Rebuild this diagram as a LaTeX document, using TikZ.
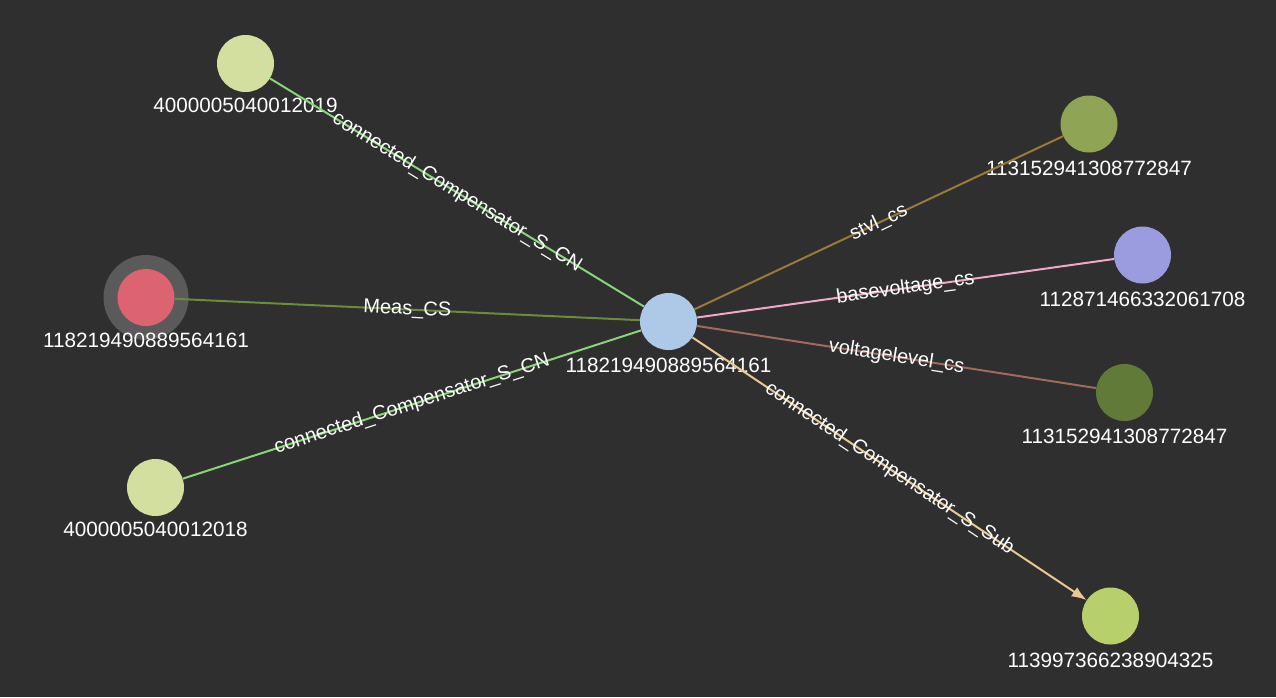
\documentclass[tikz,border=0pt]{standalone}
\usepackage{fontspec}
\setmainfont{Liberation Sans}
\usetikzlibrary{calc,arrows.meta}

\definecolor{bgc}{HTML}{2F2F2F}
\definecolor{haloc}{HTML}{5A5A5A}
\definecolor{centerc}{HTML}{AEC8E8}
\definecolor{paleg}{HTML}{D3DF9F}
\definecolor{redc}{HTML}{DC6470}
\definecolor{oliveg}{HTML}{8FA555}
\definecolor{purplec}{HTML}{9B9BE0}
\definecolor{darkg}{HTML}{627A38}
\definecolor{limec}{HTML}{B7D06C}
\definecolor{cne}{HTML}{88D478}
\definecolor{measc}{HTML}{6A8C3C}
\definecolor{stvlc}{HTML}{9A7A3A}
\definecolor{basec}{HTML}{F0A8C8}
\definecolor{volc}{HTML}{A06A5C}
\definecolor{subc}{HTML}{E8C890}

\begin{document}
\begin{tikzpicture}[x=1pt, y=-1pt,
  every node/.style={font=\fontsize{20}{24}\selectfont, text=white},
  vertex/.style={circle, minimum size=57pt, inner sep=0pt},
  idlabel/.style={font=\fontsize{20.7}{24}\selectfont},
  link/.style={line width=2pt},
  edgelabel/.style={midway, sloped, inner sep=1pt}]
	\useasboundingbox (0,0) rectangle (1276,697);
	\fill[bgc] (0,0) rectangle (1276,697);

	\coordinate (redpos) at (146,297.5);
	\fill[haloc] (redpos) circle (42.5);

	\node[vertex, fill=centerc] (cs) at (668.5,321.5) {};
	\node[idlabel] (pcs) at ($(cs) + (0,44)$) {118219490889564161};

	\node[vertex, fill=paleg] (cn19) at (245.5,63.5) {};
	\node[idlabel] (p19) at ($(cn19) + (0,42)$) {4000005040012019};
	\node[vertex, fill=redc] (meas) at (redpos) {};
	\node[idlabel] (pmeas) at ($(meas) + (0,43)$) {118219490889564161};
	\node[vertex, fill=paleg] (cn18) at (155.5,487.5) {};
	\node[idlabel] (p18) at ($(cn18) + (0,42)$) {4000005040012018};

	\node[vertex, fill=oliveg] (stvl) at (1089,124) {};
	\node[idlabel] (pstvl) at ($(stvl) + (0,44)$) {113152941308772847};
	\node[vertex, fill=purplec] (base) at (1142.5,255) {};
	\node[idlabel] (pbase) at ($(base) + (0,44)$) {112871466332061708};
	\node[vertex, fill=darkg] (vl) at (1124.5,392.5) {};
	\node[idlabel] (pvl) at ($(vl) + (0,44)$) {113152941308772847};
	\node[vertex, fill=limec] (sub) at (1110.5,616) {};
	\node[idlabel] (psub) at ($(sub) + (0,44)$) {113997366238904325};

	% edges into the compensator
	\draw[link, cne] (cn19) -- (cs) node[edgelabel] {connected\_Compensator\_S\_CN};
	\draw[link, measc] (meas) -- (cs) node[edgelabel] {Meas\_CS};
	\draw[link, cne] (cn18) -- (cs) node[edgelabel] {connected\_Compensator\_S\_CN};

	% edges out of the compensator
	\draw[link, stvlc] (cs) -- (stvl) node[edgelabel] {stvl\_cs};
	\draw[link, basec] (cs) -- (base) node[edgelabel] {basevoltage\_cs};
	\draw[link, volc] (cs) -- (vl) node[edgelabel] {voltagelevel\_cs};
	\draw[link, subc, -{Latex[length=15pt,width=11pt]}] (cs) -- (sub) node[edgelabel] {connected\_Compensator\_S\_Sub};

\end{tikzpicture}
\end{document}
